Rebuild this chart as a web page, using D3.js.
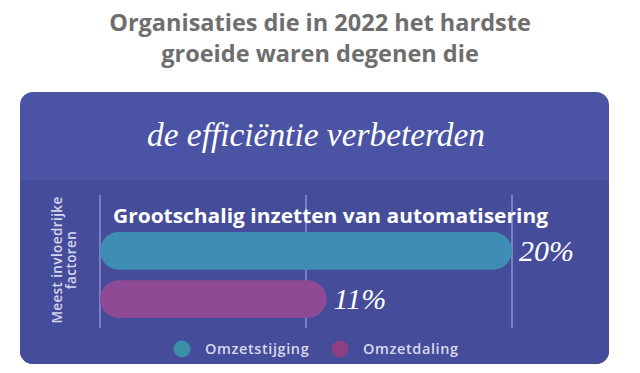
<!DOCTYPE html>
<html>
<head>
<meta charset="utf-8">
<script src="https://cdn.jsdelivr.net/npm/d3@7"></script>
<style>
  body { margin: 0; background: #fff; }
  svg { display: block; }
</style>
</head>
<body>
<svg id="drawing_region"></svg>
<script>
// data
const titleLines = ['Organisaties die in 2022 het hardste', 'groeide waren degenen die']
const subtitle = 'de efficiëntie verbeterden'
const category = 'Grootschalig inzetten van automatisering'
const series = ['Omzetstijging', 'Omzetdaling']
const values = [20, 11]
const gridTicks = [0, 10, 20]
const yLabel = ['Meest invloedrijke', 'factoren']

const W = 640, H = 373
const barColors = ['#3e8db4', '#8e4a94']
const dotColors = ['#3a8ea8', '#8c3f82']

const svg = d3.select('#drawing_region').attr('width', W).attr('height', H)

// title
svg.selectAll('.title').data(titleLines).enter()
  .append('text')
  .attr('x', 320)
  .attr('y', (d, i) => 31 + i * 31)
  .attr('text-anchor', 'middle')
  .attr('font-family', 'Open Sans')
  .attr('font-weight', 'bold')
  .attr('font-size', 23.5)
  .attr('fill', '#6e6e6e')
  .text(d => d)

// panel
const px = 20, py = 92, pw = 589, ph = 272
svg.append('clipPath').attr('id', 'panel-clip')
  .append('rect').attr('x', px).attr('y', py).attr('width', pw).attr('height', ph).attr('rx', 13)

const panel = svg.append('g').attr('clip-path', 'url(#panel-clip)')
panel.append('rect').attr('x', px).attr('y', py).attr('width', pw).attr('height', ph).attr('fill', '#4b53a4')
panel.append('rect').attr('x', px).attr('y', 180).attr('width', pw).attr('height', ph).attr('fill', '#454c99')

svg.append('text')
  .attr('x', 316).attr('y', 146)
  .attr('text-anchor', 'middle')
  .attr('font-family', 'Liberation Serif')
  .attr('font-style', 'italic')
  .attr('font-size', 34)
  .attr('textLength', 338)
  .attr('lengthAdjust', 'spacingAndGlyphs')
  .attr('fill', '#ffffff')
  .text(subtitle)

// scales
const x = d3.scaleLinear().domain([0, 20]).range([100, 512])
const y = d3.scaleBand().domain(series).range([232, 318]).paddingInner(0.22)

// grid
svg.append('g').selectAll('line').data(gridTicks).enter()
  .append('line')
  .attr('x1', d => x(d)).attr('x2', d => x(d))
  .attr('y1', 195).attr('y2', 328)
  .attr('stroke', '#7b80c2')
  .attr('stroke-width', 2)

svg.append('text')
  .attr('x', 113).attr('y', 223)
  .attr('font-family', 'Open Sans')
  .attr('font-weight', 'bold')
  .attr('font-size', 19)
  .attr('textLength', 435)
  .attr('lengthAdjust', 'spacingAndGlyphs')
  .attr('fill', '#ffffff')
  .text(category)

// bars
svg.append('g').selectAll('rect').data(values).enter()
  .append('rect')
  .attr('x', x(0))
  .attr('y', (d, i) => y(series[i]))
  .attr('width', d => x(d) - x(0))
  .attr('height', y.bandwidth())
  .attr('rx', y.bandwidth() / 2)
  .attr('fill', (d, i) => barColors[i])

svg.append('g').selectAll('text').data(values).enter()
  .append('text')
  .attr('x', d => x(d) + 7)
  .attr('y', (d, i) => y(series[i]) + y.bandwidth() / 2 + 10)
  .attr('font-family', 'Liberation Serif')
  .attr('font-style', 'italic')
  .attr('font-size', 30)
  .attr('fill', '#ffffff')
  .text(d => d + '%')

// y label
svg.append('g').attr('transform', 'translate(62,260) rotate(-90)')
  .selectAll('text').data(yLabel).enter()
  .append('text')
  .attr('x', 0)
  .attr('y', (d, i) => i * 14)
  .attr('text-anchor', 'middle')
  .attr('font-family', 'Open Sans')
  .attr('font-weight', 600)
  .attr('font-size', 13.5)
  .attr('letter-spacing', 0.4)
  .attr('fill', '#d4d5ee')
  .text(d => d)

// legend
const legendX = [182, 340]
const legend = svg.append('g').selectAll('g').data(series).enter()
  .append('g')
  .attr('transform', (d, i) => `translate(${legendX[i]},349)`)
legend.append('circle').attr('r', 8.5).attr('fill', (d, i) => dotColors[i])
legend.append('text')
  .attr('x', 23).attr('y', 5)
  .attr('font-family', 'Open Sans')
  .attr('font-weight', 600)
  .attr('font-size', 14.5)
  .attr('letter-spacing', 0.6)
  .attr('fill', '#d8d9f0')
  .text(d => d)
</script>
</body>
</html>
